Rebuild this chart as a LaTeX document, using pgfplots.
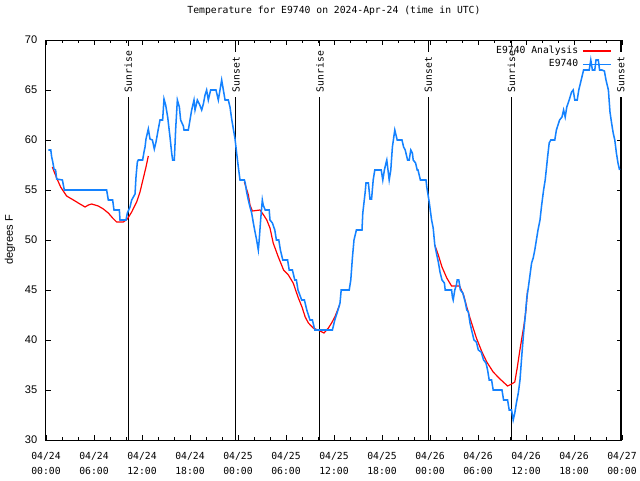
\documentclass[border=0pt]{standalone}
\usepackage{fontspec}
\usepackage{pgfplots}
\pgfplotsset{compat=1.18}
\setmonofont{DejaVu Sans Mono}
\setsansfont{Liberation Sans}
\newcommand\mono{\ttfamily\fontsize{7.3}{11.25}\selectfont}
\newcommand\sansf{\sffamily\fontsize{8.3}{10}\selectfont}
\definecolor{gblue}{RGB}{20,130,255}
\definecolor{gred}{RGB}{255,0,0}
\begin{document}
\begin{tikzpicture}
\path[use as bounding box] (-34.5pt,-30pt) rectangle (445.5pt,330pt);
\begin{axis}[at={(0,0)}, anchor=south west, scale only axis, width=432pt, height=300pt,
 xmin=0, xmax=72, ymin=30, ymax=70,
 xtick={0,6,...,72},
 xticklabels={{04/24\\00:00},{04/24\\06:00},{04/24\\12:00},{04/24\\18:00},{04/25\\00:00},{04/25\\06:00},{04/25\\12:00},{04/25\\18:00},{04/26\\00:00},{04/26\\06:00},{04/26\\12:00},{04/26\\18:00},{04/27\\00:00}},
 minor x tick num=2,
 ytick={30,35,...,70},
 tick align=inside, major tick length=4pt, minor tick length=2pt,
 tick style={black, line width=0.6pt},
 /pgf/number format/assume math mode=true,
 xticklabel style={font=\mono, align=center, yshift=-5.5pt},
 yticklabel style={font=\sansf, xshift=-3pt},
 ylabel={degrees F},
 ylabel style={font=\sansf, at={(axis description cs:-0.0625,0.5)}, anchor=center},
 title={Temperature for E9740 on 2024-Apr-24 (time in UTC)},
 title style={font=\mono, at={(axis description cs:0.5,1)}, anchor=center, yshift=15.75pt},
 clip=false, axis line style={line width=0.75pt},
 legend style={draw=none, fill=none, font=\mono, at={(axis description cs:0.985,0.995)}, anchor=north east, row sep=-1pt, inner sep=1pt, nodes={inner xsep=3pt}},
 legend cell align=right,
 legend plot pos=right,
 legend image code/.code={\draw[#1] (0pt,0pt) -- (21pt,0pt);},
 unbounded coords=jump,
]
% sunrise / sunset lines
\addplot[black, line width=0.75pt, forget plot] coordinates {(10.28,30) (10.28,70)};
\addplot[black, line width=0.75pt, forget plot] coordinates {(23.75,30) (23.75,70)};
\addplot[black, line width=0.75pt, forget plot] coordinates {(34.25,30) (34.25,70)};
\addplot[black, line width=0.75pt, forget plot] coordinates {(47.8,30) (47.8,70)};
\addplot[black, line width=0.75pt, forget plot] coordinates {(58.2,30) (58.2,70)};
\addplot[black, line width=0.75pt, forget plot] coordinates {(71.85,30) (71.85,70)};
\node[rotate=90, anchor=west, fill=white, inner xsep=3.5pt, inner ysep=1pt, font=\mono] at (axis cs:10.28,64.3) {Sunrise};
\node[rotate=90, anchor=west, fill=white, inner xsep=3.5pt, inner ysep=1pt, font=\mono] at (axis cs:23.75,64.3) {Sunset};
\node[rotate=90, anchor=west, fill=white, inner xsep=3.5pt, inner ysep=1pt, font=\mono] at (axis cs:34.25,64.3) {Sunrise};
\node[rotate=90, anchor=west, fill=white, inner xsep=3.5pt, inner ysep=1pt, font=\mono] at (axis cs:47.8,64.3) {Sunset};
\node[rotate=90, anchor=west, fill=white, inner xsep=3.5pt, inner ysep=1pt, font=\mono] at (axis cs:58.2,64.3) {Sunrise};
\node[rotate=90, anchor=west, fill=white, inner xsep=3.5pt, inner ysep=1pt, font=\mono] at (axis cs:71.85,64.3) {Sunset};

\addplot[gred, line width=0.9pt] coordinates {
(0.79,57.3) (1.33,56.2) (1.83,55.3) (2.58,54.4) (3.42,54.0) (4.25,53.6) (4.88,53.3) (5.3,53.5) (5.71,53.6) (6.54,53.4) (7.17,53.1) (7.79,52.7) (8.33,52.2) (8.83,51.8) (9.67,51.8) (10.17,52.1) (10.71,52.8) (11.33,53.8) (11.75,54.8) (12.17,56.2) (12.5,57.3) (12.79,58.4)
(18,nan)
(24.8,55.8) (25.3,54.5) (25.5,53.5) (25.8,52.9) (26.75,53.0) (27.2,52.5) (27.6,52) (28,51.2) (28.4,49.7) (29.04,48.3) (29.7,47) (30.3,46.5) (30.9,45.7) (31.5,44.3) (32,43.3) (32.4,42.3) (32.8,41.7) (33.4,41.2) (34.25,40.9) (34.75,40.7) (35.3,41.2) (35.7,41.7) (36.1,42.3) (36.7,43.5)
(42,nan)
(48.6,49.5) (49.04,48.5) (49.5,47.3) (50.1,46.2) (50.7,45.4) (51.7,45.4) (52.2,44.5) (52.6,43.3) (53,42.2) (53.4,41.2) (53.8,40.2) (54.5,38.8) (55.1,37.8) (55.9,36.8) (56.75,36.1) (57.7,35.4) (58.2,35.6) (58.6,35.8) (58.9,37.2) (59.2,38.8) (59.5,40.3) (59.75,41.5) (60,43) (60.2,45)
};
\addlegendentry{E9740 Analysis}

\addplot[gblue, line width=1.15pt] coordinates {
(0.29,59) (0.6,59) (0.71,58.3) (0.85,57.8) (1.0,57.1) (1.2,57) (1.33,56.1) (2.05,56) (2.29,55) (7.58,55) (7.79,54) (8.33,54) (8.5,53) (9.17,53) (9.25,52) (10.0,52) (10.17,52.7) (10.5,53.3) (10.71,54) (11.13,54.6) (11.25,56.3) (11.42,57.8) (11.54,58) (12.08,58) (12.25,58.8) (12.38,59.3) (12.5,60.1) (12.79,61.1) (13.0,60.1) (13.3,60) (13.54,59.1) (13.75,59.8) (14.04,61.1) (14.25,62) (14.58,62) (14.75,64.1) (14.96,63.5) (15.21,62.3) (15.5,60.3) (15.71,58.7) (15.83,58) (16.04,58) (16.21,61.1) (16.42,64) (16.67,63.3) (16.83,62) (17.17,61.4) (17.25,61) (17.79,61) (18,62) (18.21,63) (18.5,64) (18.63,63) (18.92,64) (19.17,63.6) (19.46,63) (19.67,63.6) (19.88,64.5) (20.08,65) (20.29,64) (20.58,65) (21.25,65) (21.54,64) (21.75,65) (21.96,66) (22.17,65) (22.38,64) (22.79,64) (23.0,63.3) (23.21,62.1) (23.42,61.1) (23.63,60.1) (23.83,58.7) (24.04,57.3) (24.25,56)
(24.8,56) (24.9,55.7) (25.08,54.8) (25.29,54) (25.5,53.3) (25.71,52.7) (25.92,51.7) (26.13,50.8) (26.33,50) (26.54,49) (26.65,50) (26.83,52) (27.04,54) (27.15,53.5) (27.4,53) (27.9,53) (28,52) (28.3,51.7) (28.6,51) (28.8,50) (29.1,50) (29.3,49) (29.6,48) (30.2,48) (30.4,47) (30.8,47) (31.1,46) (31.3,46) (31.5,45) (31.96,44) (32.3,44) (32.6,43) (33,42) (33.3,42) (33.6,41) (35.8,41) (36.1,42) (36.5,43) (36.75,43.7) (36.9,45) (37.9,45) (38.1,46) (38.3,48.2) (38.5,50) (38.8,51) (39.5,51) (39.6,52.7) (39.9,54.8) (40,55.7) (40.3,55.7) (40.5,54.1) (40.7,54.1) (40.9,56) (41.1,57) (41.9,57) (42.1,56) (42.3,57) (42.5,57.7) (42.6,58) (42.9,56) (43.1,57) (43.3,59.3) (43.6,61) (43.9,60) (44.5,60) (44.7,59.3) (44.9,59) (45.2,58) (45.4,58) (45.6,59) (45.8,58.7) (45.9,58) (46.2,57.7) (46.4,57) (46.5,57) (46.8,56) (47.5,56) (47.6,55.3) (47.7,54.8) (47.9,53.8) (48,53.2) (48.2,52) (48.4,51.2) (48.6,49.5) (48.8,48.7) (49.04,47.8) (49.25,46.8) (49.5,46) (49.8,45.7) (49.9,45) (50.7,45) (50.8,44.3) (50.9,44) (51.1,45) (51.3,45.5) (51.4,46) (51.6,46) (51.8,45) (52.1,44.7) (52.4,43.8) (52.6,43) (52.8,42.8) (53,41.7) (53.2,41) (53.5,40) (53.8,39.8) (54.04,39) (54.4,38.8) (54.7,38) (55,37.7) (55.2,37) (55.4,36) (55.7,36) (55.9,35) (57,35) (57.2,34) (57.7,34) (57.9,33) (58.2,33) (58.4,32) (58.6,32.7) (58.8,33.7) (59.04,34.7) (59.25,36) (59.5,38.7) (59.7,40.7) (59.9,42.3) (60.1,44.2) (60.3,45.3) (60.5,46.5) (60.7,47.7) (60.9,48.2) (61.1,49) (61.3,50) (61.5,51) (61.75,52) (61.96,53.5) (62.2,55) (62.4,56) (62.6,57.5) (62.7,58.3) (62.9,59.7) (63.1,60) (63.6,60) (63.8,61) (64.2,62) (64.5,62.3) (64.7,63) (64.9,62.3) (65.1,63.3) (65.4,64) (65.7,64.8) (65.9,65) (66.1,64) (66.4,64) (66.6,65) (66.9,66) (67.2,67) (67.9,67) (68.1,68) (68.3,67) (68.6,67) (68.75,68) (69.04,68) (69.2,67) (69.5,67) (69.8,66.9) (70,66) (70.3,65) (70.5,62.8) (70.7,61.7) (70.9,60.7) (71.1,60) (71.3,58.7) (71.5,57.7) (71.7,57)
};
\addlegendentry{E9740}
\end{axis}
\end{tikzpicture}
\end{document}
